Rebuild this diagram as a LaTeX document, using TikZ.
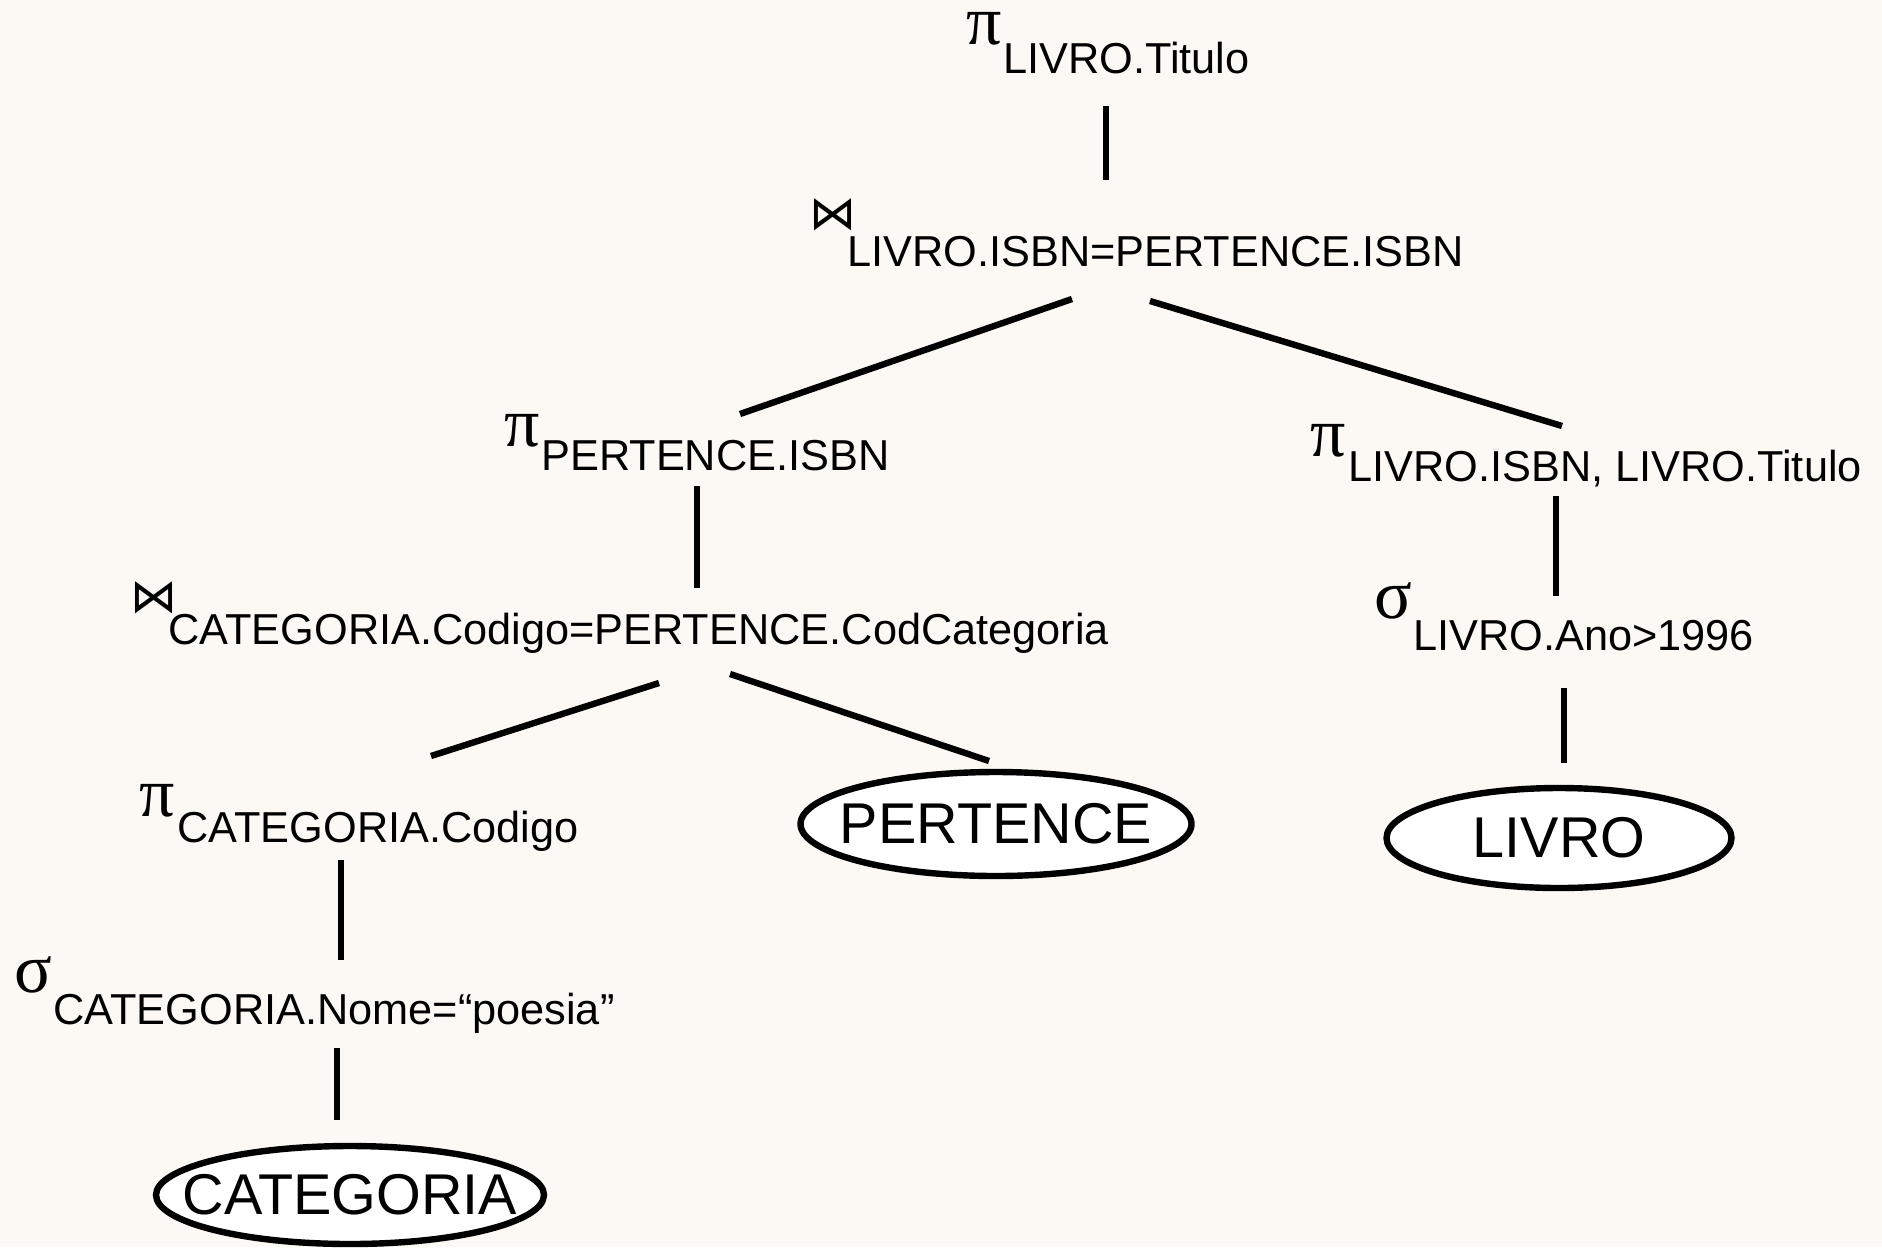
\documentclass[tikz,border=0pt]{standalone}
\usepackage{fontspec}
\setmainfont{Liberation Sans}
\newfontfamily\gkfont{Liberation Serif}
\newfontfamily\symfont{DejaVu Sans}
\usetikzlibrary{shapes.geometric}
\definecolor{bgcol}{HTML}{FCF9F4}
\tikzset{
  greek/.style={anchor=base west, inner sep=0pt, font=\gkfont\fontsize{35}{40}\selectfont},
  joinsym/.style={anchor=base west, inner sep=0pt, font=\symfont\fontsize{23.5}{28}\selectfont},
  sub/.style={anchor=base west, inner sep=0pt, font=\fontsize{21.65}{25}\selectfont},
  rel/.style={ellipse, draw=black, line width=3.2pt, fill=white, inner xsep=-150pt, inner ysep=-80pt,
    font=\fontsize{28.75}{32}\selectfont},
  conn/.style={line width=3.2pt, draw=black}
}
\begin{document}
\begin{tikzpicture}[x=0.5pt,y=-0.5pt]
\fill[bgcol] (0,0) rectangle (1882,1247);
\useasboundingbox (0,0) rectangle (1882,1247);

% operator texts
\node[greek] (g1) at (966,45) {π};
\node[sub] (s1) at (1003,74) {LIVRO.Titulo};

\node[joinsym] (j2) at (809,229) {⋈};
\node[sub] (s2) at (847,266) {LIVRO.ISBN=PERTENCE.ISBN};

\node[greek] (g3) at (504,446) {π};
\node[sub] (s3) at (541,470) {PERTENCE.ISBN};

\node[greek] (g4) at (1310,456) {π};
\node[sub] (s4) at (1348,481) {LIVRO.ISBN, LIVRO.Titulo};

\node[greek] (g5) at (1374,618) {σ};
\node[sub] (s5) at (1413,650) {LIVRO.Ano>1996};

\node[joinsym] (j6) at (130,612) {⋈};
\node[sub] (s6) at (168,644) {CATEGORIA.Codigo=PERTENCE.CodCategoria};

\node[greek] (g7) at (139,816) {π};
\node[sub] (s7) at (177,842) {CATEGORIA.Codigo};

\node[greek] (g8) at (14,992) {σ};
\node[sub] (s8) at (53,1024) {CATEGORIA.Nome=“poesia”};

% relations
\node[rel, minimum width=391*0.5pt, minimum height=104*0.5pt] (pertence) at (996,824) {PERTENCE};
\node[rel, minimum width=345*0.5pt, minimum height=100*0.5pt] (livro) at (1559,838) {LIVRO};
\node[rel, minimum width=388*0.5pt, minimum height=98*0.5pt] (categoria) at (350,1195) {CATEGORIA};

% connector end points
\coordinate (a1) at (1106,106); \coordinate (b1) at (1106,180);
\coordinate (a2) at (1072,299); \coordinate (b2) at (740,414);
\coordinate (a3) at (1150,301); \coordinate (b3) at (1562,426);
\coordinate (a4) at (697,486);  \coordinate (b4) at (697,588);
\coordinate (a5) at (1556,496); \coordinate (b5) at (1556,596);
\coordinate (a6) at (1564,688); \coordinate (b6) at (1564,763);
\coordinate (a7) at (659,683);  \coordinate (b7) at (431,756);
\coordinate (a8) at (730,674);  \coordinate (b8) at (989,761);
\coordinate (a9) at (341,860);  \coordinate (b9) at (341,960);
\coordinate (a10) at (337,1048); \coordinate (b10) at (337,1120);

\draw[conn] (a1) -- (b1);
\draw[conn] (a2) -- (b2);
\draw[conn] (a3) -- (b3);
\draw[conn] (a4) -- (b4);
\draw[conn] (a5) -- (b5);
\draw[conn] (a6) -- (b6);
\draw[conn] (a7) -- (b7);
\draw[conn] (a8) -- (b8);
\draw[conn] (a9) -- (b9);
\draw[conn] (a10) -- (b10);
\end{tikzpicture}
\end{document}
